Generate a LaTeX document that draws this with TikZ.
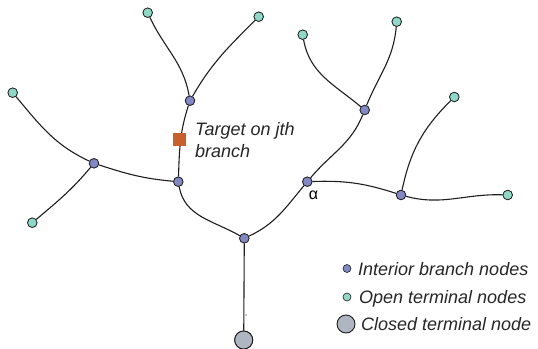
\documentclass[tikz,border=0pt]{standalone}
\usepackage{fontspec}
\setmainfont{Liberation Sans}
\definecolor{interiorfill}{HTML}{8288C4}
\definecolor{openfill}{HTML}{8ED8C8}
\definecolor{closedfill}{HTML}{B0B5C2}
\definecolor{targetfill}{HTML}{C8602C}
\definecolor{edgecol}{HTML}{1E1E1E}
\begin{document}
\begin{tikzpicture}[x=1pt,y=1pt,
  edge/.style={draw=edgecol,line width=1.1pt},
  interior/.style={circle,draw=edgecol,line width=0.7pt,fill=interiorfill,inner sep=0pt,minimum size=9.5pt},
  open/.style={circle,draw=edgecol,line width=0.7pt,fill=openfill,inner sep=0pt,minimum size=9.5pt},
  closed/.style={circle,draw=edgecol,line width=0.9pt,fill=closedfill,inner sep=0pt,minimum size=18pt},
  legdot/.style={circle,draw=edgecol,line width=0.6pt,inner sep=0pt,minimum size=8pt},
  target/.style={rectangle,fill=targetfill,inner sep=0pt,minimum size=12.5pt},
  lbl/.style={font=\fontsize{18}{22}\selectfont\itshape,text=black!85,inner sep=0pt,anchor=base west}]
\useasboundingbox (0,0) rectangle (538,-348);

% tree nodes
\node[open] (o1) at (147.7,-12.7) {};
\node[open] (o2) at (258.7,-16.7) {};
\node[interior] (A) at (190,-100.7) {};
\node[open] (o3) at (12.7,-92.7) {};
\node[interior] (C) at (94,-163.3) {};
\node[open] (o4) at (32.3,-222.7) {};
\node[interior] (B) at (178.3,-181.7) {};
\node[interior] (D) at (244.3,-238.3) {};
\node[closed] (root) at (243.7,-340) {};
\node[interior] (E) at (307.3,-181.7) {};
\node[interior] (F) at (364.7,-110) {};
\node[open] (o5) at (302.7,-34.7) {};
\node[open] (o6) at (396.7,-21.7) {};
\node[interior] (G) at (401,-195) {};
\node[open] (o7) at (454.3,-97) {};
\node[open] (o8) at (507.7,-195) {};

% branches
\draw[edge] (o1) to[out=-65,in=100] (A);
\draw[edge] (o2) to[out=-135,in=60] (A);
\draw[edge] (A) to[out=-108,in=88] (B);
\draw[edge] (o3) to[out=-50,in=155] (C);
\draw[edge] (o4) to[out=40,in=-130] (C);
\draw[edge] (C) to[out=-18,in=175] (B);
\draw[edge] (B) to[out=-80,in=150] (D);
\draw[edge] (D) to[out=25,in=-130] (E);
\draw[edge] (E) to[out=50,in=-112] (F);
\draw[edge] (o5) to[out=-80,in=140] (F);
\draw[edge] (F) to[out=68,in=-95] (o6);
\draw[edge] (E) to[out=2,in=162] (G);
\draw[edge] (G) to[out=78,in=-135] (o7);
\draw[edge] (G) to[out=-15,in=178] (o8);
\draw[edge] (D) -- (root);
\fill[edgecol] (246,-315) circle (0.6);

% redraw nodes above the branches
\foreach \n in {A,B,C,D,E,F,G}{\node[interior] at (\n) {};}
\foreach \n in {o1,o2,o3,o4,o5,o6,o7,o8}{\node[open] at (\n) {};}
\node[closed] at (root) {};

% target marker and its label
\node[target] (tgt) at (179.3,-139.3) {};
\node[lbl] (tgtlbl) at (195,-135) {Target on jth};
\node[lbl] (tgtlbl2) at (195,-157) {branch};
\node[font=\fontsize{16}{16}\selectfont,inner sep=0pt] (alpha) at (313.5,-195.5) {α};

% legend
\node[legdot,fill=interiorfill] (k1) at (347,-268.5) {};
\node[lbl] (k1t) at (358,-275) {Interior branch nodes};
\node[legdot,fill=openfill] (k2) at (347,-297) {};
\node[lbl] (k2t) at (359,-303) {Open terminal nodes};
\node[closed] (k3) at (346,-324) {};
\node[lbl] (k3t) at (361,-330) {Closed terminal node};
\end{tikzpicture}
\end{document}
